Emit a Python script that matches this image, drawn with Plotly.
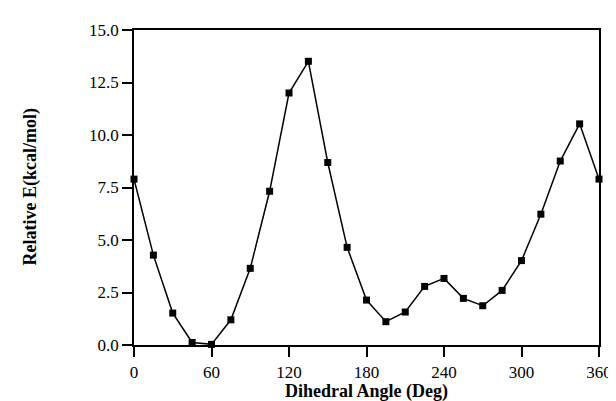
import plotly.graph_objects as go

angles = [0, 15, 30, 45, 60, 75, 90, 105, 120, 135, 150, 165, 180,
          195, 210, 225, 240, 255, 270, 285, 300, 315, 330, 345, 360]
energies = [7.90, 4.28, 1.52, 0.12, 0.03, 1.20, 3.65, 7.32, 12.00, 13.51, 8.69, 4.65, 2.14,
            1.11, 1.57, 2.79, 3.17, 2.22, 1.87, 2.60, 4.02, 6.23, 8.76, 10.53, 7.90]
x_ticks = [0, 60, 120, 180, 240, 300, 360]
y_ticks = [0.0, 2.5, 5.0, 7.5, 10.0, 12.5, 15.0]
x_title = "Dihedral Angle (Deg)"
y_title = "Relative E(kcal/mol)"

FONT = "Liberation Serif, Times New Roman, serif"

fig = go.Figure()
fig.add_trace(go.Scatter(
    x=angles, y=energies, mode="lines+markers",
    line=dict(color="black", width=1.5),
    marker=dict(symbol="square", size=7, color="black"),
    showlegend=False, cliponaxis=False,
))

axis_common = dict(
    showline=True, linecolor="black", linewidth=1.5, mirror=True,
    ticks="outside", ticklen=10, tickwidth=1.5, tickcolor="black",
    showgrid=False, zeroline=False,
    tickfont=dict(family=FONT, size=17, color="black"),
)

fig.update_xaxes(range=[0, 360], tickvals=x_ticks, ticktext=[str(v) for v in x_ticks],
                 ticklabelstandoff=1, **axis_common)
fig.update_yaxes(range=[0, 15], tickvals=y_ticks, ticktext=[f"{v:.1f}" for v in y_ticks],
                 **axis_common)

fig.add_annotation(text=f"<b>{x_title}</b>", xref="paper", yref="paper",
                   x=0.5, y=-0.147, xanchor="center", yanchor="middle", showarrow=False,
                   font=dict(family=FONT, size=18, color="black"))
fig.add_annotation(text=f"<b>{y_title}</b>", xref="paper", yref="paper",
                   x=-0.2236, y=0.5, xanchor="center", yanchor="middle", showarrow=False,
                   textangle=-90, font=dict(family=FONT, size=18, color="black"))

fig.update_layout(
    width=616, height=401,
    margin=dict(l=126, r=16, t=22, b=64),
    paper_bgcolor="white", plot_bgcolor="white",
    font=dict(family=FONT, color="black"),
)

fig.write_html("out.html")
